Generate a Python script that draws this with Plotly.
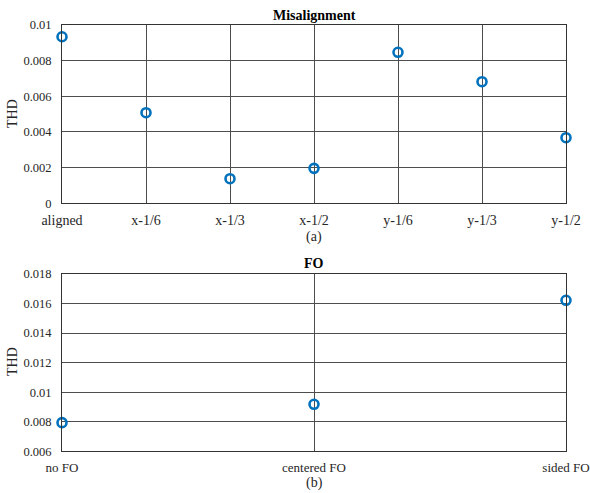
import plotly.graph_objects as go

cat_a = ["aligned", "x-1/6", "x-1/3", "x-1/2", "y-1/6", "y-1/3", "y-1/2"]
thd_a = [0.00934, 0.00508, 0.00138, 0.00196, 0.00847, 0.00682, 0.00368]
cat_b = ["no FO", "centered FO", "sided FO"]
thd_b = [0.00794, 0.00918, 0.01622]
ticks_a = [0, 0.002, 0.004, 0.006, 0.008, 0.01]
ticks_b = [0.006, 0.008, 0.01, 0.012, 0.014, 0.016, 0.018]

W, H = 590, 493
FONT = "Liberation Serif"
BLUE = "#0072BD"
GRID = "#4d4d4d"
AX = "#333333"
TXT = "#262626"
FS = 14

fig = go.Figure()
mk = dict(symbol="circle-open", size=9, color=BLUE, line=dict(width=2.6, color=BLUE))
fig.add_trace(go.Scatter(x=list(range(len(cat_a))), y=thd_a, mode="markers", marker=mk,
                         cliponaxis=False, xaxis="x", yaxis="y", showlegend=False))
fig.add_trace(go.Scatter(x=list(range(len(cat_b))), y=thd_b, mode="markers", marker=mk,
                         cliponaxis=False, xaxis="x2", yaxis="y2", showlegend=False))

x0, x1 = 62 / W, 566 / W
ya = [1 - 203.3 / H, 1 - 25 / H]
yb = [1 - 451.3 / H, 1 - 274 / H]

def axcommon(fs=FS):
    return dict(showline=True, linecolor=AX, linewidth=1, mirror=True, showgrid=True,
                gridcolor=GRID, gridwidth=1, zeroline=False, ticks="", automargin=False,
                ticklabeloverflow="allow",
                tickfont=dict(family=FONT, size=fs, color=TXT))

def ann(text, xpx, ypx, bold=False, angle=0):
    return dict(text=f"<b>{text}</b>" if bold else text, x=xpx / W, y=1 - ypx / H,
                xref="paper", yref="paper", xanchor="center", yanchor="middle",
                textangle=angle, showarrow=False,
                font=dict(family=FONT, size=FS, color="black" if bold else TXT))

cx = (62 + 566) / 2
fig.update_layout(
    width=W, height=H, margin=dict(l=0, r=0, t=0, b=0),
    paper_bgcolor="white", plot_bgcolor="white",
    font=dict(family=FONT, color=TXT),
    xaxis=dict(domain=[x0, x1], anchor="y", range=[0, len(cat_a) - 1],
               tickmode="array", tickvals=list(range(len(cat_a))), ticktext=cat_a,
               ticklabelstandoff=4, **axcommon()),
    yaxis=dict(domain=ya, anchor="x", range=[0, 0.01], tickmode="array", tickvals=ticks_a,
               ticktext=[f"{v:g}" for v in ticks_a], ticklabelstandoff=7, **axcommon(12.5)),
    xaxis2=dict(domain=[x0, x1], anchor="y2", range=[0, len(cat_b) - 1],
                tickmode="array", tickvals=list(range(len(cat_b))), ticktext=cat_b,
                ticklabelstandoff=4, **axcommon(13)),
    yaxis2=dict(domain=yb, anchor="x2", range=[0.006, 0.018], tickmode="array", tickvals=ticks_b,
                ticktext=[f"{v:g}" for v in ticks_b], ticklabelstandoff=7, **axcommon(12.5)),
    annotations=[
        ann("Misalignment", cx, 15, bold=True),
        ann("(a)", cx, 237),
        ann("THD", 12, 114, angle=-90),
        ann("FO", cx, 263, bold=True),
        ann("(b)", cx, 483),
        ann("THD", 12, 362, angle=-90),
    ],
)

fig.write_html("out.html")
